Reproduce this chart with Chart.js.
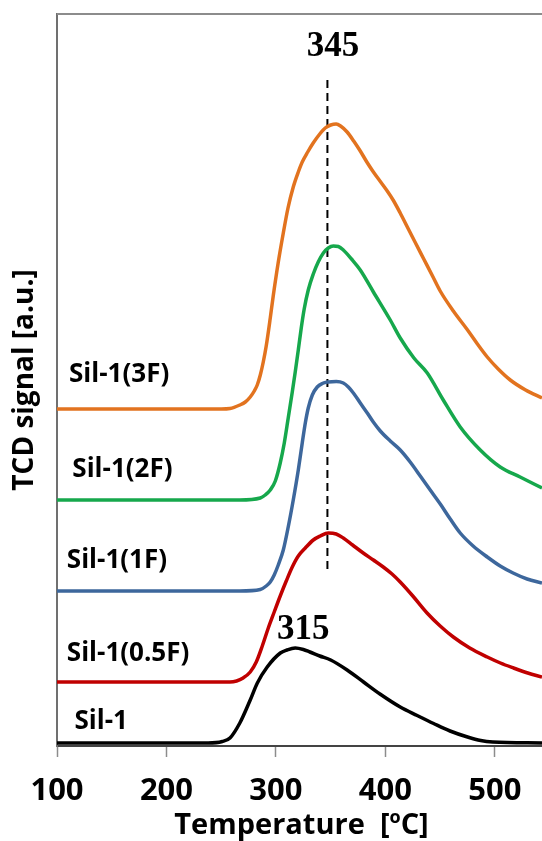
<!DOCTYPE html>
<html>
<head>
<meta charset="utf-8">
<script src="https://cdn.jsdelivr.net/npm/chart.js@4.4.1/dist/chart.umd.min.js"></script>
<style>
  html, body { margin: 0; padding: 0; background: #fff; }
  #wrap { width: 542px; height: 841px; }
</style>
</head>
<body>
<div id="wrap"><canvas id="tpd" width="542" height="841"></canvas></div>
<script>
// temperature (°C) / signal (a.u., arbitrary offset)
const tSil1 = [100, 238, 251, 258, 267, 276.5, 283, 292, 304, 310, 317.6, 325, 331, 340, 350, 365, 380, 395, 413.5, 429, 444, 459, 475, 487, 498, 543];
const sSil1 = [3, 3, 4.5, 8, 23, 46, 63, 79, 93, 96, 98, 96.5, 94, 90, 86, 76, 64, 52, 39, 30.5, 22.5, 15, 9, 5.5, 4, 3];

const tSil05 = [100, 258, 264, 270, 276.5, 282, 287.5, 293, 298.4, 303.9, 309.4, 314.9, 320.4, 326.8, 334.1, 340.5, 347.8, 355, 361.5, 370, 379.7, 389, 398, 406, 413.5, 425, 438, 450, 462, 477, 493, 505, 517, 530, 543];
const sSil05 = [64, 64, 65, 68, 74, 84, 100, 118, 134, 150, 165, 179, 190, 198, 206, 210, 213, 212, 208, 201, 193, 186, 179, 172, 164, 150, 133, 120, 109, 98, 89, 83, 78, 73, 69];

const tSil1F = [100, 267, 285.7, 291.1, 294.8, 298.4, 302.1, 306.7, 311.2, 315.8, 320.4, 324, 326.8, 329.5, 333.2, 337.7, 342.3, 347.8, 355.1, 361.5, 366.1, 370.7, 377, 383.4, 388.9, 395.3, 404.4, 413.5, 422.6, 431.8, 440.9, 450.1, 459.2, 468.3, 480.1, 493, 504.8, 516.6, 529.4, 543];
const sSil1F = [155, 155, 156.5, 160, 164, 171, 181, 196, 219, 246, 276, 303, 323, 338, 351, 359, 362.5, 364, 364.5, 363, 359, 353, 343, 333, 324, 315, 305, 296, 284, 270, 256, 242, 227, 213, 200, 189, 180, 173, 167, 163];

const tSil2F = [100, 267, 285.7, 290.2, 294.8, 299.4, 303.9, 307.6, 311.2, 314.9, 317.6, 320.4, 323.1, 325.8, 329.5, 334.1, 338.6, 343.3, 347.8, 352.4, 357, 361.5, 369, 377, 389, 404.4, 413.5, 426, 438.2, 452.8, 468.3, 486.6, 504.8, 523, 543];
const sSil2F = [246, 246, 248, 251, 256, 265, 283, 303, 328, 354, 374, 396, 418, 437, 456, 472, 484, 493, 498, 500, 499.5, 496, 487, 476, 454, 426, 408, 388, 373, 346, 319, 296, 279, 269, 258];

const tSil3F = [100, 250, 258, 267, 272, 276.5, 280.2, 282.9, 285.7, 288.4, 291.1, 294.8, 297.5, 302, 306.7, 311, 315.8, 320.4, 324, 329, 334, 340, 345, 350, 355, 359, 365, 371, 377, 383, 389, 395, 401, 407, 413.5, 420, 427, 435, 443, 450, 462, 475, 484, 493, 503, 514, 528, 543];
const sSil3F = [337, 337, 337.5, 341, 344, 349, 355, 361, 371, 384, 400, 428, 450, 483, 513, 538, 559, 574, 584, 594, 603, 612, 618, 621, 622, 620, 614, 605, 595, 584, 574, 565, 556, 546, 533, 519, 504, 487, 470, 455, 435, 416, 402, 389, 377, 366, 356, 348];

const peakLineT = [347, 347];
const peakLineS = [666, 173];

const xTicks = [100, 200, 300, 400, 500];

const seriesNames = ['Sil-1', 'Sil-1(0.5F)', 'Sil-1(1F)', 'Sil-1(2F)', 'Sil-1(3F)'];
const seriesColors = ['#000000', '#C00000', '#3D679C', '#16A84C', '#E2731F'];

function pairs(xs, ys) {
  return xs.map((x, i) => ({ x: x, y: ys[i] }));
}

const curves = [
  pairs(tSil1, sSil1),
  pairs(tSil05, sSil05),
  pairs(tSil1F, sSil1F),
  pairs(tSil2F, sSil2F),
  pairs(tSil3F, sSil3F)
];

const datasets = curves.map((d, i) => ({
  label: seriesNames[i],
  data: d,
  borderColor: seriesColors[i],
  borderWidth: 3.5,
  pointRadius: 0,
  fill: false,
  cubicInterpolationMode: 'monotone'
}));

datasets.push({
  label: 'peak',
  data: pairs(peakLineT, peakLineS),
  borderColor: '#000',
  borderWidth: 2,
  borderDash: [8, 5],
  pointRadius: 0,
  fill: false
});

// text placed in data coordinates
const notes = [
  { text: 'Sil-1(3F)', x: 111, y: 371, font: 'bold 26px "Open Sans"', align: 'left' },
  { text: 'Sil-1(2F)', x: 114, y: 276, font: 'bold 26px "Open Sans"', align: 'left' },
  { text: 'Sil-1(1F)', x: 109, y: 185, font: 'bold 26px "Open Sans"', align: 'left' },
  { text: 'Sil-1(0.5F)', x: 109, y: 92, font: 'bold 26px "Open Sans"', align: 'left' },
  { text: 'Sil-1', x: 116, y: 24, font: 'bold 26px "Open Sans"', align: 'left' },
  { text: '345', x: 352, y: 699, font: 'bold 35px "Liberation Serif"', align: 'center' },
  { text: '315', x: 325, y: 116, font: 'bold 35px "Liberation Serif"', align: 'center' }
];

const extras = {
  id: 'extras',
  afterDraw(chart) {
    const { ctx, chartArea, scales } = chart;
    ctx.save();
    // top frame line
    ctx.strokeStyle = '#8c8c8c';
    ctx.lineWidth = 2;
    ctx.beginPath();
    ctx.moveTo(chartArea.left, chartArea.top);
    ctx.lineTo(chartArea.right, chartArea.top);
    ctx.stroke();

    ctx.fillStyle = '#000';
    ctx.textBaseline = 'middle';
    notes.forEach(n => {
      ctx.font = n.font;
      ctx.textAlign = n.align;
      ctx.fillText(n.text, scales.x.getPixelForValue(n.x), scales.y.getPixelForValue(n.y));
    });

    // x title with superscript o
    const big = 'bold 29px "Open Sans"';
    const small = 'bold 18px "Open Sans"';
    const a = 'Temperature  [', b = 'o', c = 'C]';
    ctx.font = big;
    const wa = ctx.measureText(a).width, wc = ctx.measureText(c).width;
    ctx.font = small;
    const wb = ctx.measureText(b).width;
    let x = (chartArea.left + chartArea.right) / 2 + 2 - (wa + wb + wc) / 2;
    const y = 826;
    ctx.textAlign = 'left';
    ctx.textBaseline = 'middle';
    ctx.font = big;
    ctx.fillText(a, x, y);
    x += wa;
    ctx.font = small;
    ctx.fillText(b, x, y - 8);
    x += wb;
    ctx.font = big;
    ctx.fillText(c, x, y);
    ctx.restore();
  }
};

new Chart(document.getElementById('tpd'), {
  type: 'line',
  data: { datasets: datasets },
  options: {
    responsive: false,
    animation: false,
    layout: { padding: { top: 14, right: 0, left: 0, bottom: 0 } },
    plugins: {
      legend: { display: false },
      tooltip: { enabled: false }
    },
    scales: {
      x: {
        type: 'linear',
        min: 100,
        max: 543,
        afterBuildTicks: s => { s.ticks = xTicks.map(v => ({ value: v })); },
        afterFit: s => { s.height = 95; },
        grid: { display: true, drawOnChartArea: false, tickLength: 11, tickColor: '#8c8c8c', tickWidth: 1.5 },
        border: { display: true, color: '#444', width: 2 },
        ticks: {
          color: '#000',
          padding: 16,
          maxRotation: 0,
          font: { family: 'Open Sans', size: 31, weight: 'bold' }
        }
      },
      y: {
        min: 0,
        max: 732,
        afterFit: s => { s.width = 57; },
        grid: { display: false },
        border: { display: true, color: '#707070', width: 2 },
        ticks: { display: false },
        title: {
          display: true,
          text: 'TCD signal [a.u.]',
          color: '#000',
          padding: { top: 8, bottom: 0 },
          font: { family: 'Open Sans', size: 28, weight: 'bold' }
        }
      }
    }
  },
  plugins: [extras]
});
</script>
</body>
</html>
